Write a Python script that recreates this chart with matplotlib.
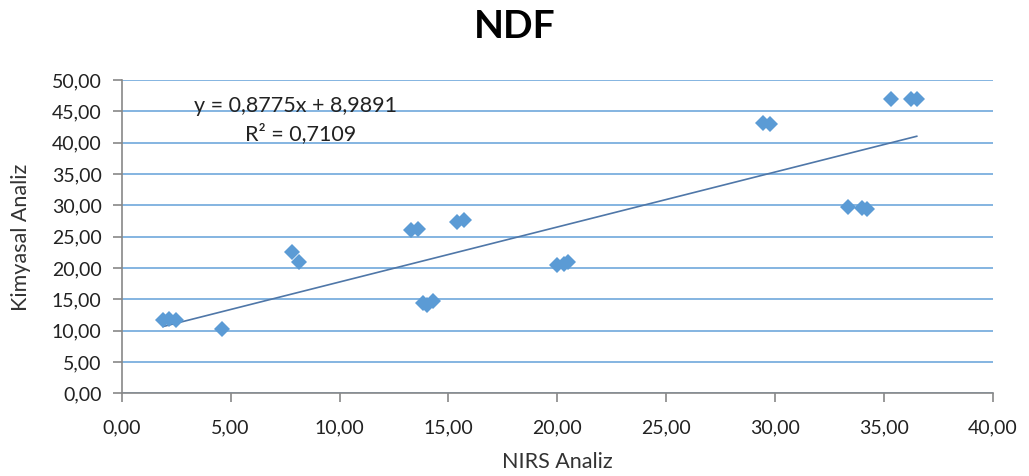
import matplotlib
matplotlib.use("Agg")
import matplotlib.pyplot as plt
from matplotlib.ticker import FuncFormatter, MultipleLocator
import numpy as np

title = "NDF"
x_label = "NIRS Analiz"
y_label = "Kimyasal Analiz"

nirs = [1.9, 2.15, 2.5, 4.6, 7.8, 8.15, 13.3, 13.6, 13.85, 14.0, 14.3,
        15.4, 15.7, 20.0, 20.3, 20.5, 29.45, 29.75, 33.35, 34.0, 34.2,
        35.3, 36.25, 36.5]
kimyasal = [11.7, 11.8, 11.7, 10.2, 22.6, 21.0, 26.0, 26.2, 14.35, 14.1, 14.7,
            27.4, 27.7, 20.5, 20.6, 20.9, 43.2, 42.95, 29.8, 29.6, 29.35,
            46.9, 46.9, 46.9]

slope = 0.8775
intercept = 8.9891
eq_text = "y = 0,8775x + 8,9891"
r2_text = "R² = 0,7109"

plt.rcParams['font.family'] = ['Lato', 'DejaVu Sans']

fig = plt.figure(figsize=(10.29, 4.76), dpi=100)
ax = fig.add_axes([0.1183, 0.1737, 0.8467, 0.6583])

ax.set_xlim(0, 40)
ax.set_ylim(0, 50)
ax.xaxis.set_major_locator(MultipleLocator(5))
ax.yaxis.set_major_locator(MultipleLocator(5))
fmt = FuncFormatter(lambda v, p: f"{v:.2f}".replace('.', ','))
ax.xaxis.set_major_formatter(fmt)
ax.yaxis.set_major_formatter(fmt)

ax.grid(axis='y', color='#6fa8dc', linewidth=1.2)
ax.set_axisbelow(True)
for s in ['top', 'right']:
    ax.spines[s].set_visible(False)
for s in ['left', 'bottom']:
    ax.spines[s].set_color('#888888')
    ax.spines[s].set_linewidth(1.2)
ax.tick_params(axis='both', colors='#888888', length=6.5, width=1.2,
               labelcolor='#222222', labelsize=14)
ax.tick_params(axis='x', pad=12)
ax.tick_params(axis='y', pad=8)

xs = np.array([min(nirs), max(nirs)])
ax.plot(xs, slope * xs + intercept, color='#4f77a8', linewidth=1.2, zorder=2)
ax.plot(nirs, kimyasal, linestyle='none', marker='D', markersize=8.5,
        color='#5b9bd5', markeredgewidth=0, zorder=3)

ax.text(7.96, 45.9, eq_text, ha='center', va='center', fontsize=15.5, color='#222222')
ax.text(8.2, 41.5, r2_text, ha='center', va='center', fontsize=15.5, color='#222222')

fig.text(0.5, 0.945, title, ha='center', va='center', fontsize=28, fontweight='bold')
fig.text(0.5413, 0.03, x_label, ha='center', va='center', fontsize=15.5, color='#333333')
fig.text(0.02, 0.502, y_label, ha='center', va='center', rotation=90, fontsize=15.5, color='#333333')

fig.savefig("out.png", dpi=100)
